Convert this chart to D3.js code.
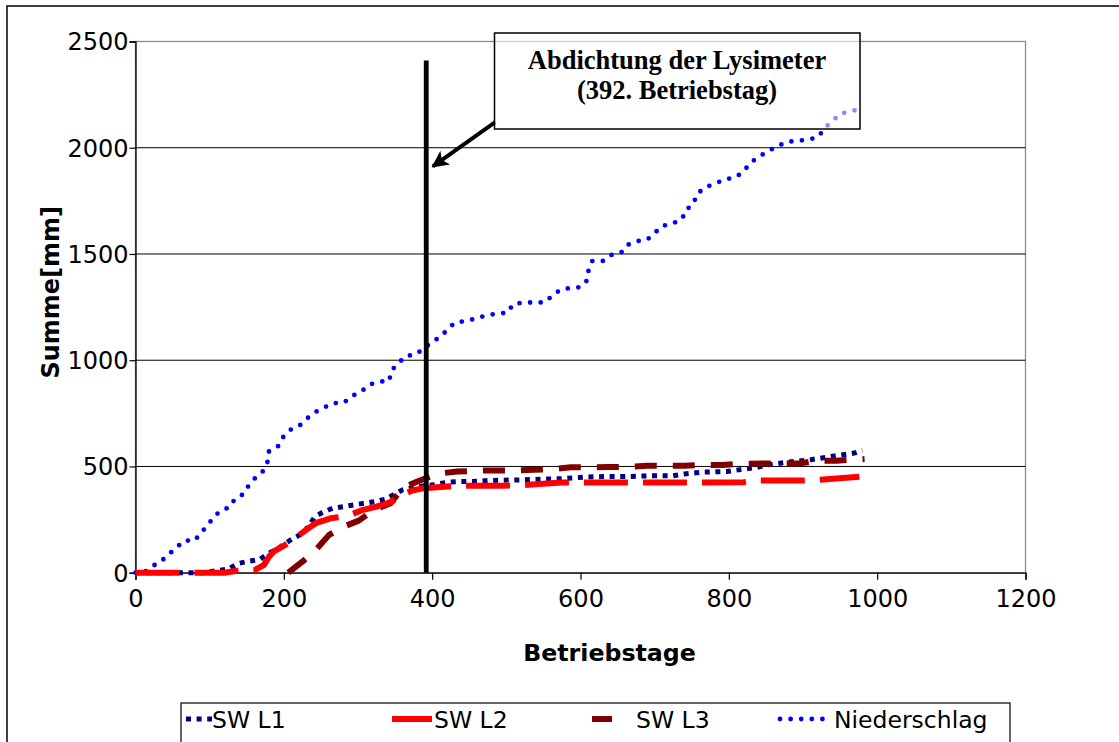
<!DOCTYPE html>
<html>
<head>
<meta charset="utf-8">
<script src="https://cdn.jsdelivr.net/npm/d3@7"></script>
<style>
  html, body { margin: 0; padding: 0; background: #fff; }
  svg { display: block; }
</style>
</head>
<body>
<svg id="chart" width="1119" height="742"></svg>
<script>
// Cumulative sums [mm] over operating days
const l1Days = [0, 90, 100, 125, 139, 153, 168, 179, 191, 202, 213, 226, 233, 242, 252, 266, 281, 294, 309, 324, 337, 348, 360, 380, 402, 420, 434, 461, 477, 490, 520, 549, 578, 607, 637, 666, 695, 725, 740, 767, 797, 813, 837, 853, 882, 911, 938, 969, 980];
const l1Sum  = [0, 0, 5, 17, 44, 54, 63, 91, 110, 139, 162, 186, 217, 264, 283, 304, 311, 319, 327, 335, 346, 367, 390, 405, 414, 425, 429, 430, 434, 435, 437, 440, 443, 450, 453, 453, 456, 456, 465, 474, 476, 484, 495, 508, 521, 532, 547, 563, 575];

const l2Days = [0, 120, 137, 150, 161, 173, 180, 186, 202, 212, 221, 233, 245, 263, 275, 289, 307, 325, 342, 352, 360, 373, 389, 411, 436, 495, 517, 574, 600, 740, 760, 820, 838, 900, 919, 976];
const l2Sum  = [0, 0, 9, 11, 13, 36, 75, 99, 131, 155, 178, 209, 236, 256, 262, 272, 296, 311, 330, 348, 367, 387, 398, 403, 409, 409, 411, 425, 425, 425, 425, 426, 434, 434, 436, 452];

const l3Days = [206, 225, 243, 261, 281, 301, 322, 344, 360, 380, 407, 434, 470, 510, 537, 563, 587, 638, 662, 690, 741, 765, 792, 814, 895, 917, 945, 968, 983];
const l3Sum  = [0, 52, 107, 178, 217, 245, 296, 327, 398, 429, 466, 476, 481, 481, 485, 487, 496, 497, 498, 503, 503, 507, 507, 513, 514, 526, 527, 532, 535];

const rainDays = [0, 13, 24, 35, 45, 55, 65, 80, 88, 97, 105, 115, 127, 134, 146, 153, 162, 172, 178, 180, 192, 199, 209, 221, 231, 242, 254, 267, 281, 292, 304, 315, 328, 342, 345, 354, 364, 378, 389, 401, 413, 422, 432, 446, 460, 474, 487, 502, 509, 523, 538, 552, 562, 573, 586, 600, 609, 611, 616, 630, 641, 655, 663, 676, 690, 700, 710, 724, 737, 742, 752, 757, 768, 782, 795, 809, 820, 829, 841, 853, 866, 879, 893, 908, 921, 929, 940, 950, 963, 977];
const rainSum  = [0, 5, 33, 55, 88, 116, 151, 151, 189, 220, 261, 292, 308, 347, 371, 413, 448, 478, 522, 571, 594, 638, 673, 692, 725, 755, 777, 798, 800, 832, 851, 884, 900, 901, 951, 984, 1019, 1027, 1057, 1088, 1115, 1151, 1179, 1184, 1198, 1212, 1219, 1224, 1264, 1271, 1272, 1272, 1304, 1332, 1340, 1344, 1376, 1428, 1467, 1467, 1495, 1507, 1542, 1560, 1568, 1598, 1632, 1643, 1664, 1708, 1733, 1782, 1813, 1832, 1852, 1860, 1889, 1929, 1959, 1984, 2008, 2028, 2033, 2038, 2052, 2093, 2126, 2160, 2170, 2183];

const xTicks = [0, 200, 400, 600, 800, 1000, 1200];
const yTicks = [0, 500, 1000, 1500, 2000, 2500];

const sealDay = 392;
const sealTop = 2410;
const noteLines = ["Abdichtung der Lysimeter", "(392. Betriebstag)"];

const seriesNames = ["SW L1", "SW L2", "SW L3", "Niederschlag"];
const seriesColors = ["#000080", "#ff0000", "#800000", "#0000ff"];

const SANS = "'DejaVu Sans', Verdana, sans-serif";
const SERIF = "'Liberation Serif', 'Times New Roman', serif";

const svg = d3.select("#chart");
const plot = { left: 135.5, right: 1025.5, top: 41.5, bottom: 572.7 };

const x = d3.scaleLinear().domain([0, 1200]).range([plot.left, plot.right]);
const y = d3.scaleLinear().domain([0, 2500]).range([plot.bottom, plot.top]);

// outer chart frame
svg.append("rect")
  .attr("x", 7).attr("y", 6).attr("width", 1130).attr("height", 760)
  .attr("fill", "#fff").attr("stroke", "#000").attr("stroke-width", 1.5);

// plot area frame
svg.append("rect")
  .attr("x", plot.left).attr("y", plot.top)
  .attr("width", plot.right - plot.left).attr("height", plot.bottom - plot.top)
  .attr("fill", "none").attr("stroke", "#8c8c8c").attr("stroke-width", 1.3);

// horizontal gridlines
svg.append("g").selectAll("line")
  .data(yTicks.filter(v => v > 0 && v < 2500))
  .join("line")
  .attr("x1", plot.left).attr("x2", plot.right)
  .attr("y1", d => y(d)).attr("y2", d => y(d))
  .attr("stroke", "#000").attr("stroke-width", 1);

// axes
const xAxis = svg.append("g")
  .attr("transform", `translate(0,${plot.bottom})`)
  .call(d3.axisBottom(x).tickValues(xTicks).tickSize(7).tickPadding(10).tickFormat(d3.format("d")));
const yAxis = svg.append("g")
  .attr("transform", `translate(${plot.left},0)`)
  .call(d3.axisLeft(y).tickValues(yTicks).tickSize(6).tickPadding(1).tickFormat(d3.format("d")));

[xAxis, yAxis].forEach(g => {
  g.select(".domain").attr("stroke", "#000").attr("stroke-width", 1.3);
  g.selectAll(".tick line").attr("stroke", "#000").attr("stroke-width", 1.2);
  g.selectAll(".tick text")
    .style("font-family", SANS)
    .style("font-size", "24px").attr("fill", "#000");
});
yAxis.selectAll(".tick text").attr("dy", "0.35em");

// axis titles
svg.append("text")
  .attr("x", x(600) + 29).attr("y", 661)
  .attr("text-anchor", "middle")
  .style("font-family", SANS).style("font-size", "23.7px").style("font-weight", "bold")
  .text("Betriebstage");
svg.append("text")
  .attr("transform", `translate(59,${y(1320)}) rotate(-90)`)
  .attr("text-anchor", "middle")
  .style("font-family", SANS).style("font-size", "24px").style("font-weight", "bold")
  .text("Summe[mm]");

// series lines
const line = d3.line().x(d => x(d[0])).y(d => y(d[1]));
const zip = (a, b) => a.map((v, i) => [v, b[i]]);

const styles = [
  { width: 5, dash: "5 5.6", cap: "butt" },
  { width: 6, dash: "44 15", cap: "butt" },
  { width: 6, dash: "22 16", cap: "butt" },
  { width: 4.8, dash: "0 10.6", cap: "round" }
];

const series = [zip(l1Days, l1Sum), zip(l2Days, l2Sum), zip(l3Days, l3Sum), zip(rainDays, rainSum)];
const drawOrder = [3, 0, 2, 1];

drawOrder.forEach(i => {
  svg.append("path")
    .datum(series[i])
    .attr("d", line)
    .attr("fill", "none")
    .attr("stroke", seriesColors[i])
    .attr("stroke-width", styles[i].width)
    .attr("stroke-dasharray", styles[i].dash)
    .attr("stroke-linecap", styles[i].cap)
    .attr("stroke-linejoin", "round");
});

// sealing date marker
svg.append("line")
  .attr("x1", x(sealDay)).attr("x2", x(sealDay))
  .attr("y1", y(0)).attr("y2", y(sealTop))
  .attr("stroke", "#000").attr("stroke-width", 4.8);

// note box with arrow
svg.append("defs").append("marker")
  .attr("id", "arrowHead")
  .attr("viewBox", "0 0 10 10")
  .attr("refX", 9).attr("refY", 5)
  .attr("markerWidth", 5).attr("markerHeight", 4.2)
  .attr("orient", "auto")
  .attr("markerUnits", "strokeWidth")
  .append("path").attr("d", "M0,0 L10,5 L0,10 L2.5,5 Z").attr("fill", "#000");

svg.append("line")
  .attr("x1", x(485)).attr("y1", y(2120))
  .attr("x2", x(401)).attr("y2", y(1912))
  .attr("stroke", "#000").attr("stroke-width", 4)
  .attr("marker-end", "url(#arrowHead)");

svg.append("rect")
  .attr("x", 494.5).attr("y", 33).attr("width", 365.5).attr("height", 96)
  .attr("fill", "#fff").attr("fill-opacity", 0.55)
  .attr("stroke", "#000").attr("stroke-width", 1.5);

svg.append("g").selectAll("text")
  .data(noteLines)
  .join("text")
  .attr("x", 677).attr("y", (d, i) => 69 + i * 30)
  .attr("text-anchor", "middle")
  .attr("fill", "#000")
  .style("font-family", SERIF)
  .style("font-weight", "bold").style("font-size", "26.5px")
  .text(d => d);

// legend
const legend = svg.append("g");
legend.append("rect")
  .attr("x", 181).attr("y", 703).attr("width", 829).attr("height", 60)
  .attr("fill", "#fff").attr("stroke", "#000").attr("stroke-width", 1.2);

const legendItems = [
  { x0: 186, x1: 212, tx: 212, dash: styles[0].dash },
  { x0: 392, x1: 432, tx: 434, dash: null },
  { x0: 592, x1: 612, tx: 636, dash: null },
  { x0: 780, x1: 830, tx: 834, dash: styles[3].dash }
];
legendItems.forEach((it, i) => {
  legend.append("line")
    .attr("x1", it.x0).attr("x2", it.x1).attr("y1", 719).attr("y2", 719)
    .attr("stroke", seriesColors[i])
    .attr("stroke-width", styles[i].width)
    .attr("stroke-dasharray", it.dash)
    .attr("stroke-linecap", styles[i].cap);
  legend.append("text")
    .attr("x", it.tx).attr("y", 728)
    .attr("fill", "#000")
    .style("font-family", SANS).style("font-size", "23.5px")
    .text(seriesNames[i]);
});
</script>
</body>
</html>
